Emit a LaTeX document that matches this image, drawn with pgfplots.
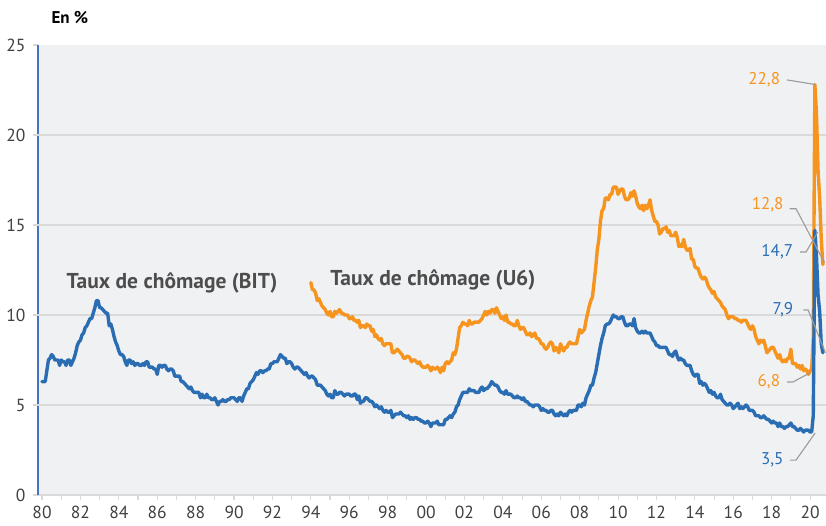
\documentclass[border=0pt]{standalone}
\usepackage{pgfplots}
\pgfplotsset{compat=1.18}
\usepackage{pgfplotstable}
\usepackage{fontspec}
\setmainfont{PT Sans}
\definecolor{bitblue}{HTML}{2A6DB3}
\definecolor{u6orange}{HTML}{F7941E}
\definecolor{bgc}{HTML}{F0F1F3}
\definecolor{gridc}{HTML}{D9D9D9}
\definecolor{txt}{HTML}{404040}
\definecolor{lead}{HTML}{9B9B9B}
\definecolor{axblue}{HTML}{4472C4}
\definecolor{labc}{HTML}{4D4D4D}

% Taux de chomage BIT, mensuel, janvier 1980 - septembre 2020
\pgfplotstableread[row sep=\\]{
y\\
6.3\\6.3\\6.3\\6.9\\7.5\\7.6\\7.8\\7.7\\7.5\\7.5\\7.5\\7.2\\
7.5\\7.4\\7.4\\7.2\\7.5\\7.5\\7.2\\7.4\\7.6\\7.9\\8.3\\8.5\\
8.6\\8.9\\9.0\\9.3\\9.4\\9.6\\9.8\\9.8\\10.1\\10.4\\10.8\\10.8\\
10.4\\10.4\\10.3\\10.2\\10.1\\10.1\\9.4\\9.5\\9.2\\8.8\\8.5\\8.3\\
8.0\\7.8\\7.8\\7.7\\7.4\\7.2\\7.5\\7.5\\7.3\\7.4\\7.2\\7.3\\
7.3\\7.2\\7.2\\7.3\\7.2\\7.4\\7.4\\7.1\\7.1\\7.1\\7.0\\7.0\\
6.7\\7.2\\7.2\\7.1\\7.2\\7.2\\7.0\\6.9\\7.0\\7.0\\6.9\\6.6\\
6.6\\6.6\\6.6\\6.3\\6.3\\6.2\\6.1\\6.0\\5.9\\6.0\\5.8\\5.7\\
5.7\\5.7\\5.7\\5.4\\5.6\\5.4\\5.4\\5.6\\5.4\\5.4\\5.3\\5.3\\
5.4\\5.2\\5.0\\5.2\\5.2\\5.3\\5.2\\5.2\\5.3\\5.3\\5.4\\5.4\\
5.4\\5.3\\5.2\\5.4\\5.4\\5.2\\5.5\\5.7\\5.9\\5.9\\6.2\\6.3\\
6.4\\6.6\\6.8\\6.7\\6.9\\6.9\\6.8\\6.9\\6.9\\7.0\\7.0\\7.3\\
7.3\\7.4\\7.4\\7.4\\7.6\\7.8\\7.7\\7.6\\7.6\\7.3\\7.4\\7.4\\
7.3\\7.1\\7.0\\7.1\\7.1\\7.0\\6.9\\6.8\\6.7\\6.8\\6.6\\6.5\\
6.6\\6.6\\6.5\\6.4\\6.1\\6.1\\6.1\\6.0\\5.9\\5.8\\5.6\\5.5\\
5.6\\5.4\\5.4\\5.8\\5.6\\5.6\\5.7\\5.7\\5.6\\5.5\\5.6\\5.6\\
5.6\\5.5\\5.5\\5.6\\5.6\\5.3\\5.5\\5.1\\5.2\\5.2\\5.4\\5.4\\
5.3\\5.2\\5.2\\5.1\\4.9\\5.0\\4.9\\4.8\\4.9\\4.7\\4.6\\4.7\\
4.6\\4.6\\4.7\\4.3\\4.4\\4.5\\4.5\\4.5\\4.6\\4.5\\4.4\\4.4\\
4.3\\4.4\\4.2\\4.3\\4.2\\4.3\\4.3\\4.2\\4.2\\4.1\\4.1\\4.0\\
4.0\\4.1\\4.0\\3.8\\4.0\\4.0\\4.0\\4.1\\3.9\\3.9\\3.9\\3.9\\
4.2\\4.2\\4.3\\4.4\\4.3\\4.5\\4.6\\4.9\\5.0\\5.3\\5.5\\5.7\\
5.7\\5.7\\5.7\\5.9\\5.8\\5.8\\5.8\\5.7\\5.7\\5.7\\5.9\\6.0\\
5.8\\5.9\\5.9\\6.0\\6.1\\6.3\\6.2\\6.1\\6.1\\6.0\\5.8\\5.7\\
5.7\\5.6\\5.8\\5.6\\5.6\\5.6\\5.5\\5.4\\5.4\\5.5\\5.4\\5.4\\
5.3\\5.4\\5.2\\5.2\\5.1\\5.0\\5.0\\4.9\\5.0\\5.0\\5.0\\4.9\\
4.7\\4.8\\4.7\\4.7\\4.6\\4.6\\4.7\\4.7\\4.5\\4.4\\4.5\\4.4\\
4.6\\4.5\\4.4\\4.5\\4.4\\4.6\\4.7\\4.6\\4.7\\4.7\\4.7\\5.0\\
5.0\\4.9\\5.1\\5.0\\5.4\\5.6\\5.8\\6.1\\6.1\\6.5\\6.8\\7.3\\
7.8\\8.3\\8.7\\9.0\\9.4\\9.5\\9.5\\9.6\\9.8\\10.0\\9.9\\9.9\\
9.8\\9.8\\9.9\\9.9\\9.6\\9.4\\9.4\\9.5\\9.5\\9.4\\9.8\\9.3\\
9.1\\9.0\\9.0\\9.1\\9.0\\9.1\\9.0\\9.0\\9.0\\8.8\\8.6\\8.5\\
8.3\\8.3\\8.2\\8.2\\8.2\\8.2\\8.2\\8.0\\7.8\\7.8\\7.7\\7.9\\
8.0\\7.7\\7.5\\7.6\\7.5\\7.5\\7.3\\7.2\\7.2\\7.2\\6.9\\6.7\\
6.6\\6.7\\6.7\\6.2\\6.3\\6.1\\6.2\\6.1\\5.9\\5.7\\5.8\\5.6\\
5.7\\5.5\\5.4\\5.4\\5.6\\5.3\\5.2\\5.1\\5.0\\5.0\\5.1\\5.0\\
4.8\\4.9\\5.0\\5.1\\4.8\\4.9\\4.8\\4.9\\5.0\\4.9\\4.7\\4.7\\
4.7\\4.6\\4.4\\4.4\\4.4\\4.3\\4.3\\4.4\\4.3\\4.2\\4.2\\4.1\\
4.0\\4.1\\4.0\\4.0\\3.8\\4.0\\3.8\\3.8\\3.7\\3.8\\3.8\\3.9\\
4.0\\3.8\\3.8\\3.7\\3.6\\3.6\\3.7\\3.6\\3.5\\3.6\\3.6\\3.6\\
3.5\\3.5\\4.4\\14.7\\13.3\\11.1\\10.2\\8.4\\7.9\\
}\bit

% Taux de chomage U6, mensuel, janvier 1994 - septembre 2020
\pgfplotstableread[row sep=\\]{
y\\
11.8\\11.4\\11.4\\11.2\\10.8\\10.9\\10.7\\10.5\\10.4\\10.3\\10.1\\10.0\\
10.2\\9.9\\9.9\\10.2\\10.1\\10.2\\10.3\\10.1\\10.1\\10.0\\10.0\\10.0\\
9.8\\9.8\\9.9\\9.7\\9.7\\9.6\\9.7\\9.3\\9.4\\9.4\\9.3\\9.5\\
9.4\\9.4\\9.1\\9.2\\8.8\\8.9\\8.7\\8.6\\8.7\\8.4\\8.3\\8.4\\
8.4\\8.4\\8.4\\7.9\\7.9\\8.0\\8.1\\8.0\\7.9\\7.8\\7.6\\7.6\\
7.7\\7.7\\7.6\\7.4\\7.5\\7.5\\7.4\\7.3\\7.4\\7.2\\7.1\\7.1\\
7.1\\7.2\\7.1\\6.9\\7.1\\7.0\\7.0\\7.1\\7.0\\6.8\\7.1\\6.9\\
7.3\\7.4\\7.3\\7.4\\7.5\\7.9\\7.8\\8.1\\8.7\\9.3\\9.4\\9.6\\
9.5\\9.5\\9.4\\9.7\\9.5\\9.5\\9.6\\9.6\\9.6\\9.6\\9.7\\9.8\\
10.0\\10.2\\10.0\\10.2\\10.1\\10.3\\10.3\\10.1\\10.4\\10.2\\10.0\\9.8\\
9.9\\9.7\\10.0\\9.6\\9.6\\9.5\\9.5\\9.4\\9.4\\9.7\\9.4\\9.2\\
9.3\\9.3\\9.1\\8.9\\8.9\\9.0\\8.8\\8.9\\9.0\\8.7\\8.7\\8.6\\
8.4\\8.4\\8.2\\8.1\\8.2\\8.4\\8.5\\8.4\\8.0\\8.2\\8.1\\7.9\\
8.4\\8.2\\8.0\\8.2\\8.2\\8.4\\8.5\\8.4\\8.4\\8.4\\8.4\\8.8\\
9.2\\9.0\\9.1\\9.2\\9.7\\10.1\\10.5\\10.8\\11.0\\11.8\\12.6\\13.6\\
14.2\\15.2\\15.8\\15.9\\16.5\\16.5\\16.4\\16.7\\16.7\\17.1\\17.1\\17.1\\
16.7\\16.9\\17.0\\17.0\\16.6\\16.4\\16.4\\16.5\\16.8\\16.6\\16.9\\16.6\\
16.2\\16.0\\15.9\\16.1\\15.8\\16.1\\15.9\\16.1\\16.4\\15.8\\15.5\\15.2\\
15.2\\15.0\\14.5\\14.6\\14.8\\14.8\\14.9\\14.6\\14.7\\14.4\\14.4\\14.4\\
14.6\\14.3\\13.8\\13.9\\13.8\\14.2\\13.8\\13.6\\13.6\\13.7\\13.1\\13.1\\
12.7\\12.6\\12.6\\12.3\\12.1\\12.0\\12.1\\12.0\\11.7\\11.5\\11.4\\11.2\\
11.3\\11.0\\10.9\\10.8\\10.7\\10.5\\10.4\\10.3\\10.0\\9.8\\9.9\\9.9\\
9.9\\9.8\\9.8\\9.7\\9.7\\9.6\\9.7\\9.7\\9.7\\9.5\\9.3\\9.2\\
9.4\\9.2\\8.8\\8.6\\8.4\\8.6\\8.5\\8.6\\8.3\\7.9\\8.0\\8.1\\
8.2\\8.2\\8.0\\7.8\\7.6\\7.8\\7.5\\7.4\\7.5\\7.4\\7.6\\7.6\\
8.1\\7.3\\7.3\\7.3\\7.1\\7.2\\7.0\\7.2\\6.9\\7.0\\6.9\\6.7\\
6.9\\7.0\\8.7\\22.8\\21.2\\18.0\\16.5\\14.2\\12.8\\
}\usix

\begin{document}
\begin{tikzpicture}
\begin{axis}[
  name=ax,
  scale only axis,
  width=788pt, height=450pt,
  xmin=1979.79, xmax=2020.83,
  ymin=0, ymax=25,
  axis x line*=bottom, axis y line*=left,
  x axis line style={draw=gridc, line width=1.3pt},
  y axis line style={draw=axblue, line width=1.5pt},
  axis background/.style={fill=bgc},
  xtick={1980,1982,...,2020},
  xticklabels={80,82,84,86,88,90,92,94,96,98,00,02,04,06,08,10,12,14,16,18,20},
  minor xtick={1981,1983,...,2019},
  ytick={0,5,10,15,20,25},
  yticklabels={0,5,10,15,20,25},
  extra y ticks={5,10,15,20},
  extra y tick labels={},
  extra y tick style={grid=major, tick style={draw=none}},
  grid style={draw=gridc, line width=1.1pt},
  tick align=outside,
  major tick length=5pt, minor tick length=5pt,
  xtick style={draw=gridc, line width=1.1pt},
  ytick style={draw=gridc, line width=1.1pt},
  x tick label style={text=txt, font=\fontsize{17.5}{18}\selectfont, yshift=-3pt},
  y tick label style={text=txt, font=\fontsize{17.5}{18}\selectfont, xshift=-4pt},
  /pgf/number format/assume math mode=true,
]
\addplot[u6orange, line width=3.4pt, line join=round, line cap=round]
  table[x expr={1994+\coordindex/12}, y=y] {\usix};
\addplot[bitblue, line width=3.4pt, line join=round, line cap=round]
  table[x expr={1980+\coordindex/12}, y=y] {\bit};

\node[font=\bfseries\fontsize{21.5}{22}\selectfont, text=labc] at (axis cs:1986.77,11.78) {Taux de chômage (BIT)};
\node[font=\bfseries\fontsize{21.5}{22}\selectfont, text=labc] at (axis cs:2000.36,11.94) {Taux de chômage (U6)};

% annotations
\draw[lead, line width=1.1pt] (axis cs:2018.80,23.06) -- (axis cs:2020.30,22.8);
\node[anchor=east, text=u6orange, font=\fontsize{17}{18}\selectfont] at (axis cs:2018.62,23.06) {22,8};

\draw[lead, line width=1.1pt] (axis cs:2018.94,15.9) -- (axis cs:2019.27,15.9) -- (axis cs:2020.75,12.9);
\node[anchor=east, text=u6orange, font=\fontsize{17}{18}\selectfont] at (axis cs:2018.80,16.1) {12,8};

\draw[lead, line width=1.1pt] (axis cs:2019.48,13.5) -- (axis cs:2019.79,13.5) -- (axis cs:2020.40,14.6);
\node[anchor=east, text=bitblue, font=\fontsize{17}{18}\selectfont] at (axis cs:2019.30,13.5) {14,7};

\draw[lead, line width=1.1pt] (axis cs:2019.65,10.28) -- (axis cs:2019.90,10.28) -- (axis cs:2020.80,7.9);
\node[anchor=east, text=bitblue, font=\fontsize{17}{18}\selectfont] at (axis cs:2019.30,10.28) {7,9};

\draw[lead, line width=1.1pt] (axis cs:2018.80,6.28) -- (axis cs:2019.11,6.28) -- (axis cs:2019.99,6.78);
\node[anchor=east, text=u6orange, font=\fontsize{17}{18}\selectfont] at (axis cs:2018.62,6.28) {6,8};

\draw[lead, line width=1.1pt] (axis cs:2018.96,1.94) -- (axis cs:2019.27,1.94) -- (axis cs:2020.26,3.44);
\node[anchor=east, text=bitblue, font=\fontsize{17}{18}\selectfont] at (axis cs:2018.80,1.94) {3,5};
\end{axis}
\node[anchor=base west, font=\bfseries\fontsize{17}{18}\selectfont, text=black] at (10pt,471pt) {En \%};
\pgfresetboundingbox
\useasboundingbox (-38pt,-31pt) rectangle (788pt,495pt);
\end{tikzpicture}
\end{document}
